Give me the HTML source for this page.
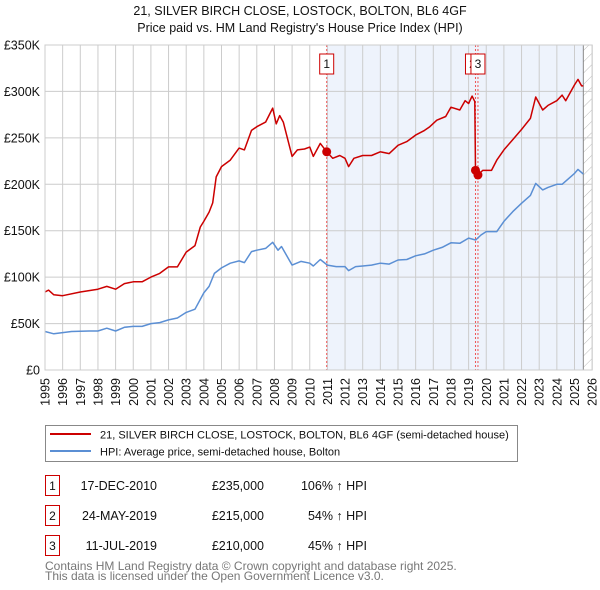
<!DOCTYPE html>
<html><head><meta charset="utf-8"><style>
body{margin:0;background:#fff;font-family:"Liberation Sans","DejaVu Sans",sans-serif;}
#wrap{position:relative;width:600px;height:590px;overflow:hidden;}
</style></head><body>
<div id="wrap">
<svg id="chart" width="600" height="590" xmlns="http://www.w3.org/2000/svg"></svg>
</div>
<script>
const yearTicks=[1995,1996,1997,1998,1999,2000,2001,2002,2003,2004,2005,2006,2007,2008,2009,2010,2011,2012,2013,2014,2015,2016,2017,2018,2019,2020,2021,2022,2023,2024,2025,2026];
const valueTicks=[0,50,100,150,200,250,300,350];
const valueTickLabels=["£0","£50K","£100K","£150K","£200K","£250K","£300K","£350K"];
const redT=[1995,1995.2,1995.5,1996,1997,1998,1998.5,1999,1999.5,2000,2000.5,2001,2001.5,2002,2002.5,2003,2003.5,2003.8,2004,2004.3,2004.5,2004.7,2005,2005.5,2006,2006.3,2006.7,2007,2007.5,2007.9,2008.1,2008.3,2008.5,2009,2009.3,2009.7,2010,2010.2,2010.6,2010.96,2011.3,2011.7,2012,2012.2,2012.5,2013,2013.5,2014,2014.5,2015,2015.5,2016,2016.5,2016.8,2017.2,2017.7,2018,2018.5,2018.8,2019,2019.2,2019.35,2019.39,2019.53,2019.8,2020.3,2020.6,2021,2021.5,2022,2022.5,2022.8,2023.2,2023.5,2024,2024.3,2024.5,2025,2025.2,2025.4,2025.5];
const redV=[84,86,81,80,84,87,90,87,93,95,95,100,104,111,111,127,134,154,160,170,180,208,219,226,239,237,258,262,267,282,265,274,267,230,237,238,240,230,244,235,228,231,228,219,228,231,231,235,233,242,246,253,258,262,269,273,283,280,290,287,295,289,215,210,215,215,226,237,248,259,271,294,280,285,290,296,290,307,313,306,306];
const blueT=[1995,1995.5,1996.5,1997.5,1998,1998.5,1999,1999.5,2000,2000.5,2001,2001.5,2002,2002.5,2003,2003.5,2004,2004.3,2004.6,2005,2005.5,2006,2006.3,2006.7,2007,2007.5,2007.9,2008.2,2008.4,2009,2009.5,2010,2010.2,2010.6,2011,2011.5,2012,2012.2,2012.6,2013,2013.5,2014,2014.5,2015,2015.5,2016,2016.5,2017,2017.5,2018,2018.5,2019,2019.4,2019.7,2020,2020.6,2021,2021.5,2022,2022.5,2022.8,2023.2,2023.5,2024,2024.3,2025,2025.2,2025.5];
const blueV=[41.5,39,41.5,42,42,45,42,46,47,47,50,51,54,56,62,65.5,83,90,104,110,115,117.5,115.7,127.5,129,131,137.5,129,133,113,117,115,112,119,113,111.4,111.4,107,111.4,112,113,115,114,118.5,119,123,125,129,132,137,136.5,142,140,145.4,149,149,160,170.5,179.5,188,201,194,196.6,200,200,211.7,216,211];
const saleT=[2010.96,2019.39,2019.53];
const saleV=[235,215,210];
const saleLabels=["1","2","3"];
const X0=45,XS=17.65,Y0=370,YS=325/350;
const xs=t=>X0+(t-1995)*XS, ys=v=>Y0-v*YS;
const svg=document.getElementById('chart');const NS='http://www.w3.org/2000/svg';
function mk(tag,attrs,parent){const e=document.createElementNS(NS,tag);for(const k in attrs)e.setAttribute(k,attrs[k]);(parent||svg).appendChild(e);return e;}
const L=xs(1995),R=xs(2026),T=ys(350),B=ys(0),dataEnd=2025.5;
let e;
e=mk('rect',{x:xs(saleT[0]),y:T,width:xs(dataEnd)-xs(saleT[0]),height:B-T,fill:'#eef3fc'});


const defs=mk('defs',{});const pat=mk('pattern',{id:'hatch',width:8,height:8,patternUnits:'userSpaceOnUse',patternTransform:'rotate(45)'},defs);
mk('line',{x1:0,y1:0,x2:0,y2:8,stroke:'#bbb','stroke-width':1},pat);
e=mk('rect',{x:xs(dataEnd),y:T,width:R-xs(dataEnd),height:B-T,fill:'url(#hatch)'});


yearTicks.forEach(y=>{e=mk('line',{x1:xs(y),x2:xs(y),y1:T,y2:B,stroke:'#cccccc','stroke-width':1});


const tx=xs(y)+4.5,ty=B+8;
e=mk('text',{x:tx,y:ty,'text-anchor':'end','font-size':12.5,fill:'#111',transform:'rotate(-90 '+tx+' '+ty+')'});e.textContent=y;

});
valueTicks.forEach((v,i)=>{e=mk('line',{x1:L,x2:R,y1:ys(v),y2:ys(v),stroke:'#cccccc','stroke-width':1});


e=mk('text',{x:L-5,y:ys(v)+4.5,'text-anchor':'end','font-size':12.5,fill:'#111'});e.textContent=valueTickLabels[i];

});
e=mk('line',{x1:xs(dataEnd),x2:xs(dataEnd),y1:T,y2:B,stroke:'#888','stroke-width':1});


saleT.forEach(t=>{e=mk('line',{x1:xs(t),x2:xs(t),y1:T,y2:B,stroke:'#ee5555','stroke-width':1,'stroke-dasharray':'2,2'});

});
function path(ts,vs){return ts.map((t,i)=>(i?'L':'M')+xs(t).toFixed(1)+','+ys(vs[i]).toFixed(1)).join('');}
e=mk('path',{d:path(blueT,blueV),fill:'none',stroke:'#5b8fd4','stroke-width':1.5,'stroke-linejoin':'round'});


e=mk('path',{d:path(redT,redV),fill:'none',stroke:'#cc0000','stroke-width':1.5,'stroke-linejoin':'round'});


saleT.forEach((t,i)=>{e=mk('circle',{cx:xs(t),cy:ys(saleV[i]),r:4.5,fill:'#cc0000'});

});
saleT.forEach((t,i)=>{const g=mk('g',{});


const bx=xs(t)-(i==1?10:7);mk('rect',{x:bx,y:54,width:14,height:20,fill:'#fff',stroke:'#cc0000','stroke-width':1},g);
const tx=mk('text',{x:bx+7,y:68,'text-anchor':'middle','font-size':12,fill:'#111'},g);tx.textContent=saleLabels[i];});
e=mk('rect',{x:L,y:T,width:R-L,height:B-T,fill:'none',stroke:'#cccccc'});


function txt(s,x,y,opt,name){const t=mk('text',Object.assign({x:x,y:y,'font-size':12.5,fill:'#111'},opt||{}));t.textContent=s;

return t;}
txt('21, SILVER BIRCH CLOSE, LOSTOCK, BOLTON, BL6 4GF',300,15,{'text-anchor':'middle'},'chart-title');
txt("Price paid vs. HM Land Registry's House Price Index (HPI)",300,32,{'text-anchor':'middle'},'chart-subtitle');
e=mk('rect',{x:45.5,y:425.5,width:472,height:36,fill:'#fff',stroke:'#888'});


mk('line',{x1:50,x2:91,y1:434,y2:434,stroke:'#cc0000','stroke-width':2});
mk('line',{x1:50,x2:91,y1:451,y2:451,stroke:'#5b8fd4','stroke-width':2});
txt('21, SILVER BIRCH CLOSE, LOSTOCK, BOLTON, BL6 4GF (semi-detached house)',100,438.5,{'font-size':11},'legend-entry-price');
txt('HPI: Average price, semi-detached house, Bolton',100,455.5,{'font-size':11},'legend-entry-hpi');
const rows=[["1","17-DEC-2010","£235,000","106% ↑ HPI"],["2","24-MAY-2019","£215,000","54% ↑ HPI"],["3","11-JUL-2019","£210,000","45% ↑ HPI"]];
rows.forEach((r,i)=>{const y=485+i*30;
e=mk('rect',{x:45.5,y:y-9.5,width:14,height:20,fill:'#fff',stroke:'#cc0000'});


txt(r[0],52.5,y+5,{'text-anchor':'middle','font-size':12},'table-index');
txt(r[1],157,y+5,{'text-anchor':'end','font-size':12.5},'table-date');
txt(r[2],264,y+5,{'text-anchor':'end','font-size':12.5},'table-price');
txt(r[3],367,y+5,{'text-anchor':'end','font-size':12.5},'table-hpi');});
txt('Contains HM Land Registry data © Crown copyright and database right 2025.',45,570,{'font-size':12,fill:'#777'},'footer-line1');
txt('This data is licensed under the Open Government Licence v3.0.',45,580,{'font-size':12,fill:'#777'},'footer-line2');
</script>
</body></html>
